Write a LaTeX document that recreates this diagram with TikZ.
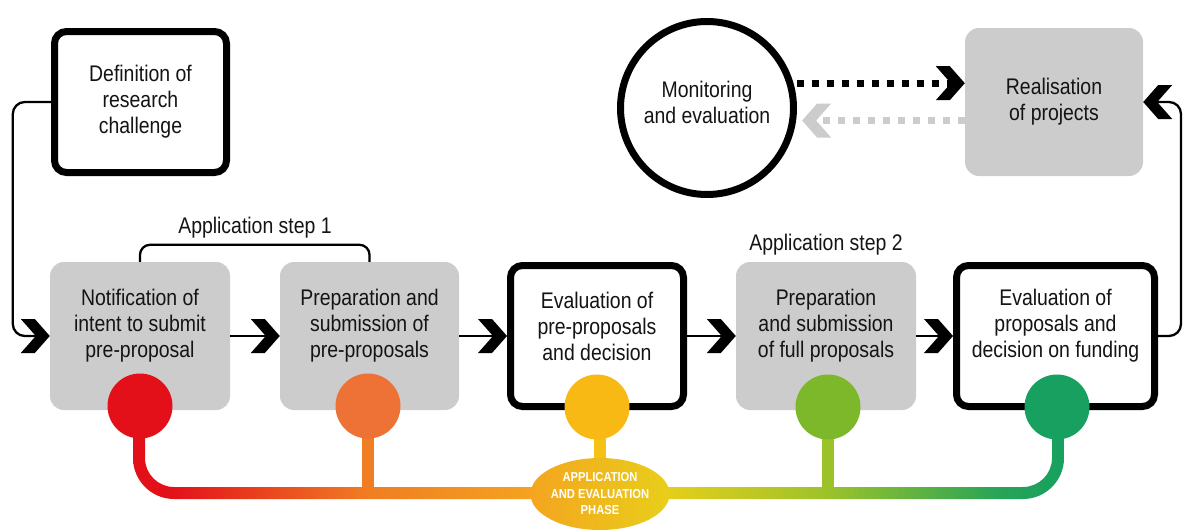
\documentclass[tikz,border=0pt]{standalone}
\usepackage{fontspec}
\setmainfont{Liberation Sans}[FakeStretch=0.86]
\usetikzlibrary{shapes.geometric,calc}
\definecolor{boxgray}{HTML}{CCCCCC}
\definecolor{txt}{HTML}{141414}
\definecolor{cred}{HTML}{E3101A}
\definecolor{corange}{HTML}{EE7235}
\definecolor{cyellow}{HTML}{F8B914}
\definecolor{clime}{HTML}{7DB82A}
\definecolor{cgreen}{HTML}{17A060}
\definecolor{lorange}{HTML}{F07D22}
\definecolor{lyellow}{HTML}{F5C114}
\definecolor{llime}{HTML}{9CC22A}
\definecolor{ellL}{HTML}{F4A51F}
\definecolor{ellR}{HTML}{E8CF1A}
\pgfdeclarehorizontalshading{phase}{100bp}{%
  color(0bp)=(cred); color(27bp)=(cred);
  color(37.6bp)=(lorange); color(46.9bp)=(ellL);
  color(53.3bp)=(ellR); color(62.3bp)=(llime);
  color(71.6bp)=(cgreen!85!clime); color(75bp)=(cgreen); color(100bp)=(cgreen)}
\pgfdeclarearrow{
  name = Chev,
  setup code = {
    \pgfarrowssettipend{0pt}
    \pgfarrowssetlineend{-10pt}
    \pgfarrowssetbackend{-29pt}
    \pgfarrowssetvisualbackend{-14pt}
    \pgfarrowshullpoint{0pt}{0pt}
    \pgfarrowshullpoint{-29pt}{17pt}
    \pgfarrowshullpoint{-29pt}{-17pt}
  },
  drawing code = {
    \pgfpathmoveto{\pgfqpoint{0pt}{0pt}}
    \pgfpathlineto{\pgfqpoint{-15pt}{17pt}}
    \pgfpathlineto{\pgfqpoint{-29pt}{17pt}}
    \pgfpathlineto{\pgfqpoint{-14pt}{0pt}}
    \pgfpathlineto{\pgfqpoint{-29pt}{-17pt}}
    \pgfpathlineto{\pgfqpoint{-15pt}{-17pt}}
    \pgfpathclose
    \pgfusepathqfill
  }
}
\tikzset{
  every node/.style={font=\fontsize{22.6}{26}\selectfont, text=txt, align=center},
  graybox/.style={fill=boxgray, rounded corners=14pt, minimum width=180pt, minimum height=148pt, inner sep=0pt},
  blackbox/.style={draw=black, fill=white, line width=7pt, rounded corners=12pt, minimum width=173pt, minimum height=141pt, inner sep=0pt},
  boxtext/.style={yshift=10pt, align=center, text=txt},
  conn/.style={color=black, line width=2.3pt, -Chev},
  dotblack/.style={color=black, line width=7pt, dash pattern=on 7pt off 8pt, -Chev},
  dotgray/.style={color=boxgray, line width=7pt, dash pattern=on 7pt off 8pt, -Chev},
  bracket/.style={draw=black, line width=2.3pt, rounded corners=10pt},
  dot/.style={circle, minimum size=65pt, inner sep=0pt},
  stem/.style={line width=12pt},
}
\begin{document}
\begin{tikzpicture}[x=1pt, y=-1pt]
\useasboundingbox (0,0) rectangle (1183,530);
% boxes
\node[blackbox, minimum width=172pt] (def) at (140.5,102) {Definition of\\research\\challenge};
\node[graybox] (b1) at (140,336) {};
\node[graybox, minimum width=179pt] (b2) at (369.5,336) {};
\node[blackbox] (b3) at (597,336) {};
\node[graybox] (b4) at (826,336) {};
\node[blackbox, minimum width=198pt] (b5) at (1055.5,336) {};
\node[graybox, minimum width=178pt] (real) at (1054,102) {Realisation\\of projects};
\node[circle, draw=black, line width=7pt, minimum size=173pt, inner sep=0pt] (mon) at (707,108) {};
\node[boxtext, yshift=-4pt] (montxt) at (mon.center) {Monitoring\\and evaluation};
\node[boxtext] (t1) at (b1.center) {Notification of\\intent to submit\\pre-proposal};
\node[boxtext] (t2) at (b2.center) {Preparation and\\submission of\\pre-proposals};
\node[boxtext] (t3) at (b3.center) {Evaluation of\\pre-proposals\\and decision};
\node[boxtext] (t4) at (b4.center) {Preparation\\and submission\\of full proposals};
\node[boxtext] (t5) at (b5.center) {Evaluation of\\proposals and\\decision on funding};
% step labels
\draw[bracket] (b1.north) -- ++(0,-17) -| (b2.north);
\node (lbl1) at (255,228) {Application step 1};
\node (lbl2) at (826,245) {Application step 2};
% connectors
\draw[conn, rounded corners=12pt] (def.west) -| ($(b1.west)+(-37,0)$) -- (b1.west);
\draw[conn] (b1.east) -- (b2.west);
\draw[conn] (b2.east) -- (b3.west);
\draw[conn] (b3.east) -- (b4.west);
\draw[conn] (b4.east) -- (b5.west);
\draw[conn, rounded corners=12pt] (b5.east) -- ++(23,0) |- (real.east);
\draw[dotblack, shorten <=3pt] (mon.16) -- (mon.16 -| real.west);
\draw[dotgray, shorten >=6pt] (mon.-8 -| real.west) -- (mon.-8);
% gradient phase line
\begin{scope}
\clip (133,410) -- (133,458) .. controls (133,480.6) and (151.4,499) .. (174,499)
  -- (1023,499) .. controls (1045.6,499) and (1064,480.6) .. (1064,458)
  -- (1064,410) -- (1052,410) -- (1052,458) .. controls (1052,474) and (1039,487) .. (1023,487)
  -- (174,487) .. controls (158,487) and (145,474) .. (145,458) -- (145,410) -- cycle;
\shade[shading=phase] (133,400) rectangle (1064,505);
\end{scope}
\node[dot, fill=cred] (c1) at (140,406) {};
\node[dot, fill=cgreen] (c5) at (1057,407) {};
\node[ellipse, left color=ellL, right color=ellR, minimum width=126pt, minimum height=72pt, inner sep=0pt,
  text=white, font=\fontsize{13}{16.5}\selectfont\bfseries] (phase) at (600,494) {APPLICATION\\AND EVALUATION\\PHASE};
\coordinate (s2) at (368,488);
\coordinate (s4) at (828,488);
\draw[stem, lorange] (s2) -- ++(0,-82);
\draw[stem, llime] (s4) -- ++(0,-81);
\draw[stem, lyellow] (phase.north) -- ++(0,-53);
\node[dot, fill=corange] (c2) at (368,406) {};
\node[dot, fill=clime] (c4) at (828,407) {};
\node[dot, fill=cyellow] (c3) at (597,407) {};
\end{tikzpicture}
\end{document}
